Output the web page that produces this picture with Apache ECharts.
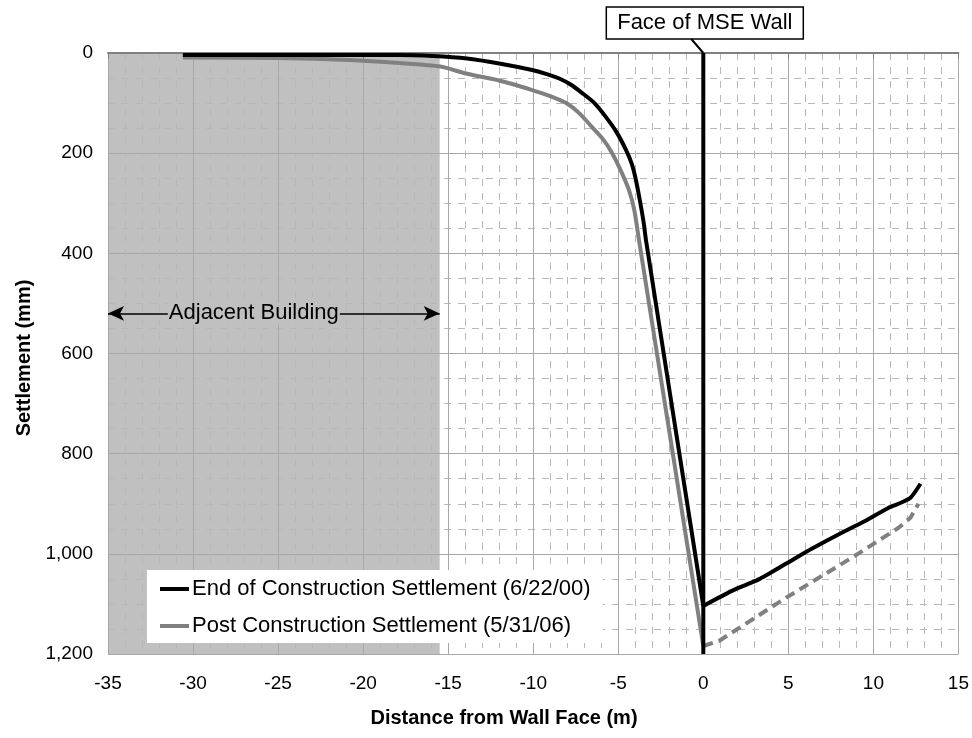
<!DOCTYPE html>
<html><head><meta charset="utf-8">
<script src="https://cdn.jsdelivr.net/npm/echarts@6/dist/echarts.min.js"></script>
<style>html,body{margin:0;padding:0;background:#fff}#c{width:972px;height:738px}</style>
</head><body><div id="c"></div>
<script>
// End of Construction Settlement (6/22/00), left of wall
const endDist   = [-30.6, -25, -20, -17.9, -15.9, -13.9, -12.0, -10.06, -9.2, -8.47, -7.8, -7.12, -6.4, -5.72, -5.1, -4.54, -4.2, -3.96, -3.7, -3.5, -3.37, 0];
const endSettle = [4, 4, 4, 4, 6, 11, 21, 34, 42, 51, 63, 80, 100, 128, 158, 194, 222, 254, 300, 340, 374, 1104];
// End of Construction Settlement (6/22/00), right of wall
const endRightDist   = [0, 0.04, 1.68, 3.26, 4.85, 6.37, 8.37, 9.54, 10.9, 11.48, 12.18, 12.77];
const endRightSettle = [1104, 1104, 1074, 1051, 1020, 990, 954, 934, 908, 900, 888, 860];
// Post Construction Settlement (5/31/06), solid part left of wall
const postDist   = [-30.6, -25, -20.8, -17.86, -15.46, -13.95, -12.0, -10.06, -9.0, -8.06, -7.3, -6.54, -5.9, -5.36, -4.85, -4.37, -4.05, -3.78, 0];
const postSettle = [9, 10, 14, 20, 27, 41, 55, 74, 86, 100, 120, 148, 172, 200, 235, 274, 315, 374, 1184];
// Post Construction Settlement, dashed part right of wall
const postRightDist   = [0, 0.92, 4.85, 8.72, 11.48, 12.18, 12.65];
const postRightSettle = [1184, 1174, 1088, 1008, 948, 928, 900];
// Face of MSE wall
const wallDist   = [0, 0];
const wallSettle = [0, 1200];
// Adjacent building extent
const buildingFrom = -35, buildingTo = -15.5, arrowLevel = 520;
const seriesNames = ['End of Construction Settlement (6/22/00)', 'Post Construction Settlement (5/31/06)'];

const zip = (a, b) => a.map((v, i) => [v, b[i]]);
const FONT = 'Liberation Sans, Arial, sans-serif';
const chart = echarts.init(document.getElementById('c'));

const option = {
  animation: false,
  backgroundColor: '#fff',
  grid: { left: 108, right: 12, top: 53, bottom: 84, containLabel: false },
  xAxis: {
    type: 'value', min: -35, max: 15, interval: 5, z: 1,
    axisLine: { show: true, lineStyle: { color: '#808080', width: 2 } },
    axisTick: { show: true, length: 6, lineStyle: { color: '#808080' } },
    axisLabel: { color: '#000', fontSize: 19, fontFamily: FONT, margin: 20 },
    splitLine: { show: true, lineStyle: { color: '#a8a8a8', width: 1 } },
    minorTick: { show: false, splitNumber: 5 },
    minorSplitLine: { show: true, lineStyle: { color: '#b8b8b8', width: 1, type: [7, 7] } }
  },
  yAxis: {
    type: 'value', min: 0, max: 1200, interval: 200, inverse: true, z: 1,
    axisLine: { show: true, lineStyle: { color: '#909090', width: 1 } },
    axisTick: { show: false },
    axisLabel: { color: '#000', fontSize: 19, fontFamily: FONT, margin: 15,
      formatter: v => v.toLocaleString('en-US') },
    splitLine: { show: true, lineStyle: { color: '#a8a8a8', width: 1 } },
    minorTick: { show: false, splitNumber: 4 },
    minorSplitLine: { show: true, lineStyle: { color: '#b8b8b8', width: 1, type: [7, 7] } }
  },
  legend: {
    data: seriesNames, orient: 'vertical', left: 147, top: 570,
    backgroundColor: '#fff', padding: [8, 12, 6, 13], itemGap: 15,
    icon: 'rect', itemWidth: 29, itemHeight: 4,
    textStyle: { fontSize: 22, fontFamily: FONT, color: '#000', padding: [0, 0, 0, -2] }
  },
  series: [
    {
      type: 'custom', z: 0, silent: true,
      data: [[buildingFrom, 0, buildingTo, 1200]],
      encode: { x: [0, 2], y: [1, 3] },
      renderItem: (params, api) => {
        const p1 = api.coord([api.value(0), api.value(1)]);
        const p2 = api.coord([api.value(2), api.value(3)]);
        return { type: 'rect', shape: { x: p1[0], y: p1[1], width: p2[0] - p1[0], height: p2[1] - p1[1] },
          style: { fill: '#c0c0c0' } };
      }
    },
    {
      name: seriesNames[1], type: 'line', z: 3, showSymbol: false, symbol: 'none',
      smooth: 0.25,
      data: zip(postDist, postSettle),
      itemStyle: { color: '#808080' },
      lineStyle: { color: '#808080', width: 4 }
    },
    {
      name: 'post-right', type: 'line', z: 3, showSymbol: false, symbol: 'none',
      data: zip(postRightDist, postRightSettle),
      itemStyle: { color: '#808080' },
      lineStyle: { color: '#808080', width: 4, type: [10, 6] }
    },
    {
      name: seriesNames[0], type: 'line', z: 4, showSymbol: false, symbol: 'none',
      smooth: 0.25,
      data: zip(endDist, endSettle),
      itemStyle: { color: '#000' },
      lineStyle: { color: '#000', width: 4 }
    },
    {
      name: seriesNames[0], type: 'line', z: 4, showSymbol: false, symbol: 'none',
      smooth: 0.2,
      data: zip(endRightDist, endRightSettle),
      itemStyle: { color: '#000' },
      lineStyle: { color: '#000', width: 4 }
    },
    {
      name: 'wall', type: 'line', z: 5, showSymbol: false, symbol: 'none',
      data: zip(wallDist, wallSettle),
      lineStyle: { color: '#000', width: 4 },
      markLine: {
        silent: true, symbol: ['arrow', 'arrow'], symbolSize: [11, 16],
        lineStyle: { color: '#000', width: 1.5, type: 'solid' },
        label: { show: true, position: 'insideMiddle', formatter: 'Adjacent Building',
          color: '#000', fontSize: 22, fontFamily: FONT, backgroundColor: '#c0c0c0',
          padding: [0, 1], offset: [-20, 0] },
        data: [[{ coord: [buildingFrom, arrowLevel] }, { coord: [buildingTo, arrowLevel] }]]
      }
    }
  ]
};
chart.setOption(option);

const wallTop = chart.convertToPixel({ gridIndex: 0 }, [wallDist[0], wallSettle[0]]);
chart.setOption({
  graphic: [
    { type: 'rect', z: 10, shape: { x: wallTop[0] - 97, y: 7, width: 197, height: 32 },
      style: { fill: '#fff', stroke: '#000', lineWidth: 1.5 } },
    { type: 'text', z: 11, x: wallTop[0] + 1.5, y: 23,
      style: { text: 'Face of MSE Wall', font: '22px ' + FONT, fill: '#000', align: 'center', verticalAlign: 'middle' } },
    { type: 'line', z: 10, shape: { x1: wallTop[0] - 12, y1: 39, x2: wallTop[0], y2: wallTop[1] },
      style: { stroke: '#000', lineWidth: 2 } },
    { type: 'text', z: 10, x: 504, y: 718,
      style: { text: 'Distance from Wall Face (m)', font: 'bold 20px ' + FONT, fill: '#000', align: 'center', verticalAlign: 'middle' } },
    { type: 'text', z: 10, x: 24, y: 358, rotation: Math.PI / 2,
      style: { text: 'Settlement (mm)', font: 'bold 20px ' + FONT, fill: '#000', align: 'center', verticalAlign: 'middle' } }
  ]
});
</script>
</body></html>
